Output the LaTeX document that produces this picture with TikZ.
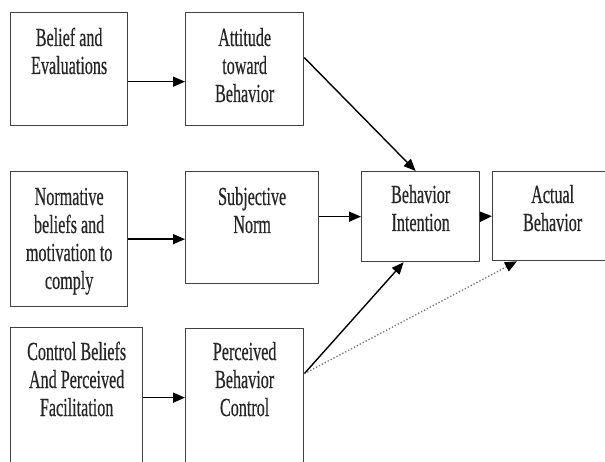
\documentclass[tikz,border=0pt]{standalone}
\usepackage{fontspec}
\usepackage{graphicx}
\setmainfont[FakeBold=0.6]{Liberation Serif}
\usetikzlibrary{arrows.meta}
\newcommand\narrowtext[1]{\scalebox{0.62}[1]{\begin{tabular}[t]{@{}c@{}}#1\end{tabular}}}
\begin{document}
\begin{tikzpicture}[x=1pt,y=-1pt,
  box/.style={draw=black!75, line width=1.3pt, rectangle, inner sep=0pt, anchor=north west},
  txt/.style={anchor=base, inner sep=0pt, font=\fontsize{26}{28}\selectfont, text=black!85},
  arr/.style={draw=black, line width=1.6pt, -{Triangle[length=12pt,width=10pt]}},
  dots/.style={draw=black!55, line width=1.3pt, dotted, -{Triangle[length=12pt,width=10pt,color=black]}}]
\fill[white] (0,0) rectangle (605,462);
\useasboundingbox (0,0) rectangle (605,462);
\clip (0,0) rectangle (605,462);
% boxes
\node[box, minimum width=117pt, minimum height=113pt] (b1) at (10,12) {};
\node[box, minimum width=118pt, minimum height=113pt] (b2) at (185,12) {};
\node[box, minimum width=117pt, minimum height=135pt] (b3) at (10,171) {};
\node[box, minimum width=133pt, minimum height=112pt] (b4) at (185,171) {};
\node[box, minimum width=132pt, minimum height=140pt] (b5) at (10,327) {};
\node[box, minimum width=118pt, minimum height=139pt] (b6) at (185,328) {};
\node[box, minimum width=118pt, minimum height=90pt] (b7) at (361,171) {};
\node[box, minimum width=120pt, minimum height=89pt] (b8) at (492,171) {};
% texts
\node[txt] (t1) at ([yshift=-34pt]b1.north) {\narrowtext{Belief and\\Evaluations}};
\node[txt] (t2) at ([yshift=-34pt]b2.north) {\narrowtext{Attitude\\toward\\Behavior}};
\node[txt] (t3) at ([yshift=-34pt]b3.north) {\narrowtext{Normative\\beliefs and\\motivation to\\comply}};
\node[txt] (t4) at ([yshift=-34pt]b4.north) {\narrowtext{Subjective\\Norm}};
\node[txt] (t5) at ([yshift=-33pt]b5.north) {\narrowtext{Control Beliefs\\And Perceived\\Facilitation}};
\node[txt] (t6) at ([yshift=-32pt]b6.north) {\narrowtext{Perceived\\Behavior\\Control}};
\node[txt] (t7) at ([yshift=-32pt]b7.north) {\narrowtext{Behavior\\Intention}};
\node[txt] (t8) at ([yshift=-32pt]b8.north) {\narrowtext{Actual\\Behavior}};
% connectors
\draw[arr] ([yshift=-12.5pt]b1.east) -- ([yshift=-12.5pt]b2.west);
\draw[arr] (b3.east) -- (b3.east -| b4.west);
\draw[arr] (b5.east) -- (b5.east -| b6.west);
\draw[arr] (b7.west -| b4.east) -- (b7.west);
\draw[arr] (b7.east) -- (b8.west);
\draw[arr, line width=1.4pt] ([yshift=11.5pt]b2.east) -- ([xshift=-5pt]b7.north);
\draw[arr, line width=1.4pt] ([yshift=24.5pt]b6.east) -- ([xshift=-17pt]b7.south);
\draw[dots] ([yshift=24.5pt]b6.east) -- ([xshift=25pt]b8.south west);
\end{tikzpicture}
\end{document}
